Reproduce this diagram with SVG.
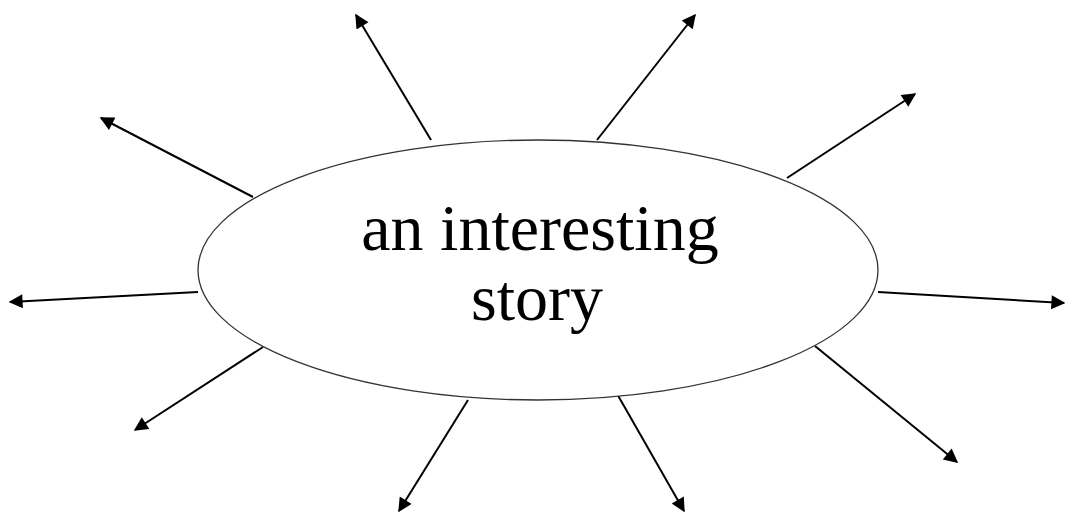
<svg xmlns="http://www.w3.org/2000/svg" width="1065" height="512" viewBox="0 0 1065 512">
<defs>
<marker id="ah" viewBox="0 0 10 10" refX="9" refY="5" markerWidth="8" markerHeight="7" markerUnits="strokeWidth" orient="auto">
<path d="M0,0 L10,5 L0,10 z" fill="#000"/>
</marker>
<style>
.c{stroke:#000;stroke-width:2;fill:none;marker-end:url(#ah)}
.t{font-family:"Liberation Serif","Times New Roman",serif;font-size:66px;fill:#000;text-anchor:middle}
</style>
</defs>
<rect width="1065" height="512" fill="#fff"/>
<g id="connectors">
<line class="c" x1="431" y1="140" x2="356" y2="15"/>
<line class="c" x1="597" y1="140" x2="695" y2="15"/>
<line class="c" x1="787" y1="178" x2="915" y2="94"/>
<line class="c" x1="253" y1="197" x2="101" y2="118"/>
<line class="c" x1="198" y1="292" x2="10" y2="302"/>
<line class="c" x1="878" y1="292" x2="1064" y2="303"/>
<line class="c" x1="263" y1="347" x2="135" y2="430"/>
<line class="c" x1="815" y1="346" x2="957" y2="462"/>
<line class="c" x1="468" y1="400" x2="399" y2="511"/>
<line class="c" x1="616" y1="392" x2="684" y2="511"/>
</g>
<g id="story">
<ellipse cx="538" cy="270" rx="340" ry="130" fill="#fff" stroke="#333" stroke-width="1.3"/>
<text class="t" x="540" y="250">an interesting</text>
<text class="t" x="537" y="320">story</text>
</g>
</svg>
